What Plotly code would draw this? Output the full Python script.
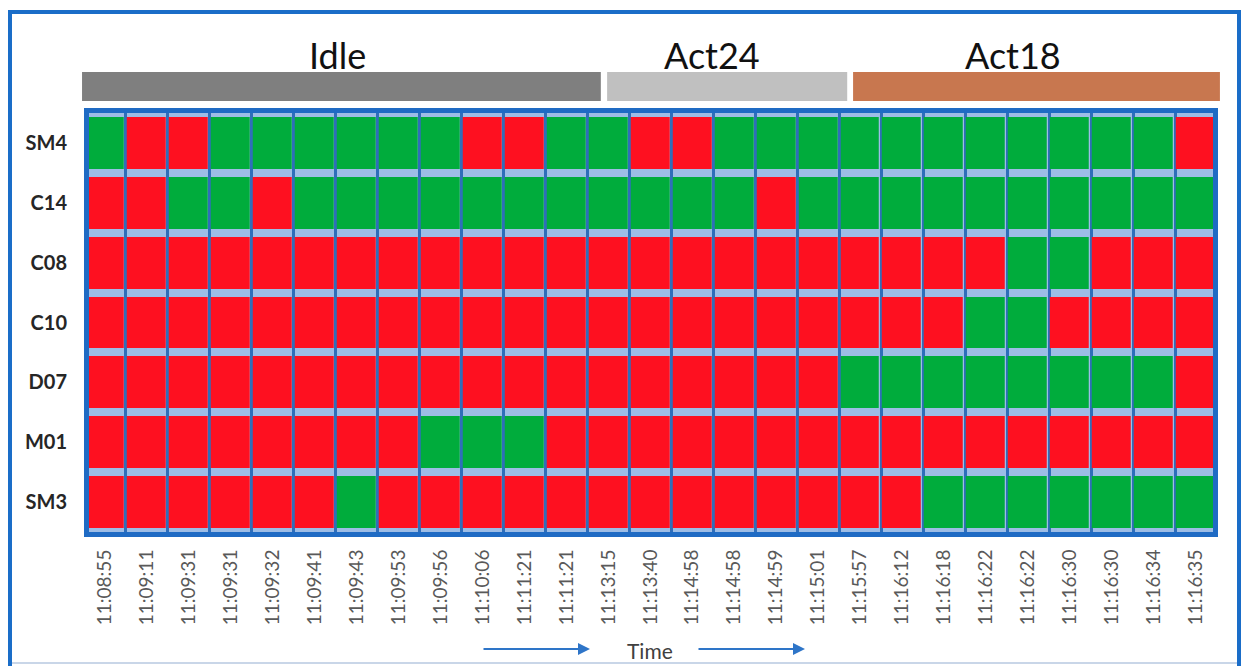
import plotly.graph_objects as go

# ---------------- data ----------------
times = ["11:08:55", "11:09:11", "11:09:31", "11:09:31", "11:09:32", "11:09:41",
         "11:09:43", "11:09:53", "11:09:56", "11:10:06", "11:11:21", "11:11:21",
         "11:13:15", "11:13:40", "11:14:58", "11:14:58", "11:14:59", "11:15:01",
         "11:15:57", "11:16:12", "11:16:18", "11:16:22", "11:16:22", "11:16:30",
         "11:16:30", "11:16:34", "11:16:35"]

rows = ["SM4", "C14", "C08", "C10", "D07", "M01", "SM3"]

# 1 = green, 0 = red
sm4 = [1, 0, 0, 1, 1, 1, 1, 1, 1, 0, 0, 1, 1, 0, 0, 1, 1, 1, 1, 1, 1, 1, 1, 1, 1, 1, 0]
c14 = [0, 0, 1, 1, 0, 1, 1, 1, 1, 1, 1, 1, 1, 1, 1, 1, 0, 1, 1, 1, 1, 1, 1, 1, 1, 1, 1]
c08 = [0, 0, 0, 0, 0, 0, 0, 0, 0, 0, 0, 0, 0, 0, 0, 0, 0, 0, 0, 0, 0, 0, 1, 1, 0, 0, 0]
c10 = [0, 0, 0, 0, 0, 0, 0, 0, 0, 0, 0, 0, 0, 0, 0, 0, 0, 0, 0, 0, 0, 1, 1, 0, 0, 0, 0]
d07 = [0, 0, 0, 0, 0, 0, 0, 0, 0, 0, 0, 0, 0, 0, 0, 0, 0, 0, 1, 1, 1, 1, 1, 1, 1, 1, 0]
m01 = [0, 0, 0, 0, 0, 0, 0, 0, 1, 1, 1, 0, 0, 0, 0, 0, 0, 0, 0, 0, 0, 0, 0, 0, 0, 0, 0]
sm3 = [0, 0, 0, 0, 0, 0, 1, 0, 0, 0, 0, 0, 0, 0, 0, 0, 0, 0, 0, 0, 1, 1, 1, 1, 1, 1, 1]

# phases (in column units)
phase_names = ["Idle", "Act24", "Act18"]
phase_start = [-0.54, 11.97, 17.83]
phase_end = [11.82, 17.69, 26.57]
phase_colors = ["#7F7F7F", "#C0C0C0", "#C8774F"]

# ---------------- figure ----------------
RED = "#FE1020"
GREEN = "#00AC3C"
FONT = "Lato"

W, H = 1245, 666
L, R, T, B = 89, 32, 113, 134
PW, PH = W - L - R, H - T - B
XMIN, XMAX = -0.374, 26.405


def px(xp):
    return (xp - L) / PW


def py(yp):
    return (H - B - yp) / PH


def dx(v):
    # column units -> paper fraction
    return (v - XMIN) / (XMAX - XMIN)


z = [sm4, c14, c08, c10, d07, m01, sm3]
xs = list(range(len(times)))

fig = go.Figure(go.Heatmap(
    z=z, x=xs, y=rows,
    colorscale=[[0, RED], [1, GREEN]], zmin=0, zmax=1,
    showscale=False, xgap=3, ygap=8, hoverinfo="skip",
))

fig.update_layout(
    width=W, height=H,
    margin=dict(l=L, r=R, t=T, b=B, autoexpand=False),
    paper_bgcolor="white",
    plot_bgcolor="#9DBDE6",
    showlegend=False,
    font=dict(family=FONT),
)

fig.update_xaxes(
    range=[XMIN, XMAX], tickmode="array", tickvals=xs, ticktext=times,
    tickangle=-90, tickfont=dict(size=19, color="#595959", family=FONT),
    showgrid=False, zeroline=False, ticks="", ticklabelstandoff=5,
    showline=True, mirror=True, linecolor="#1F6BC4", linewidth=5,
    automargin=False, fixedrange=True,
    minor=dict(tickmode="array", tickvals=[i + 0.5 for i in range(-1, len(times))],
               showgrid=True, gridcolor="#2F6EBA", gridwidth=3, ticks=""),
)
fig.update_yaxes(
    autorange="reversed", tickfont=dict(size=20, color="#262626", family=FONT, weight="bold"),
    showgrid=False, zeroline=False, ticks="", ticklabelstandoff=13,
    showline=True, mirror=True, linecolor="#1F6BC4", linewidth=5,
    automargin=False, fixedrange=True,
)

# phase bars and labels
label_shift = [-4, -15, -24]
for name, s, e, c, sh in zip(phase_names, phase_start, phase_end, phase_colors, label_shift):
    fig.add_shape(type="rect", xref="paper", yref="paper", x0=dx(s), x1=dx(e),
                  y0=py(101), y1=py(72), fillcolor=c, line=dict(width=0), layer="above")
    fig.add_annotation(xref="paper", yref="paper", x=dx((s + e) / 2), y=py(55), xshift=sh,
                       text=name, showarrow=False, xanchor="center", yanchor="middle",
                       font=dict(size=36, color="#111111", family=FONT))

# outer frame
fig.add_shape(type="rect", xref="paper", yref="paper",
              x0=px(10), x1=px(1239), y0=py(672), y1=py(12),
              line=dict(color="#1A6DC8", width=4), layer="above")
fig.add_shape(type="line", xref="paper", yref="paper",
              x0=px(12), x1=px(1237), y0=py(663), y1=py(663),
              line=dict(color="#C9D6E8", width=2), layer="above")

# Time label and arrows
fig.add_annotation(xref="paper", yref="paper", x=px(650), y=py(650), text="Time",
                   showarrow=False, xanchor="center", yanchor="middle",
                   font=dict(size=21, color="#404040", family=FONT))
for head in (590, 805):
    fig.add_annotation(xref="paper", yref="paper", x=px(head), y=py(649), text="",
                       showarrow=True, ax=-108, ay=0, arrowhead=2, arrowsize=1.2,
                       arrowwidth=2, arrowcolor="#2E75C8")

fig.write_html("out.html", config={"displayModeBar": False},
               post_script="document.body.style.margin='0';document.body.style.overflow='hidden';")
